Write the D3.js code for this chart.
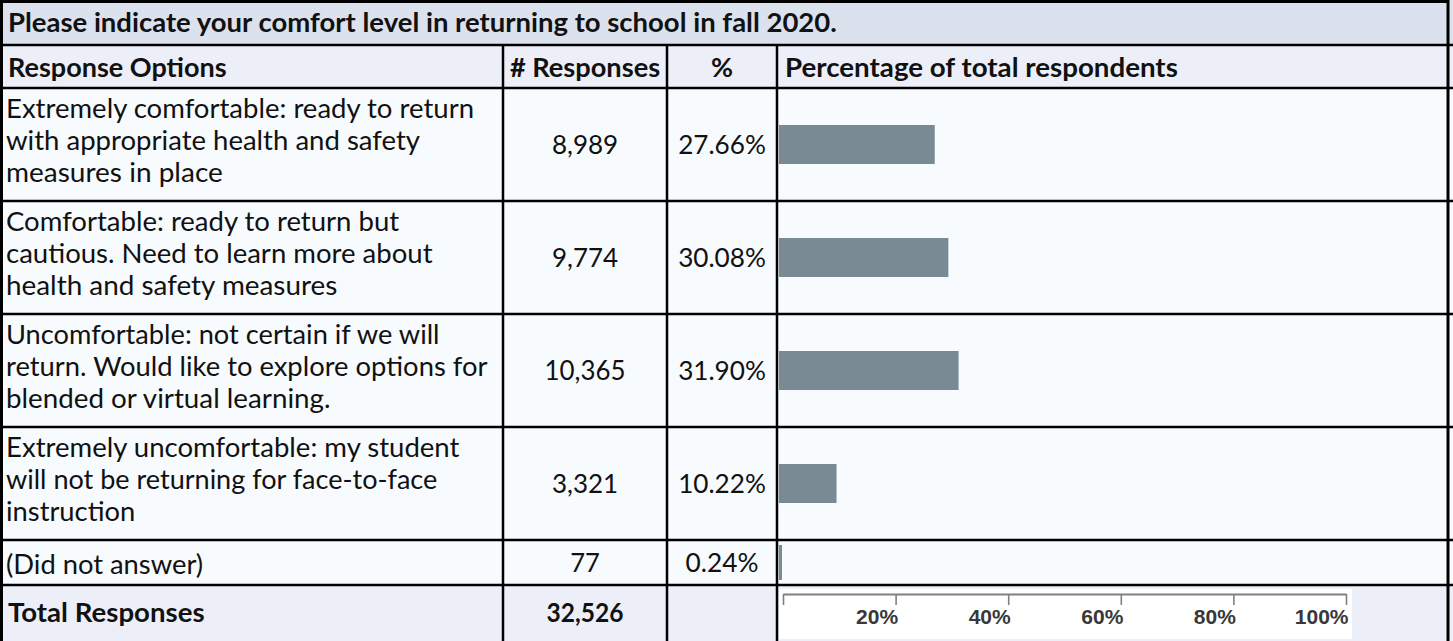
<!DOCTYPE html>
<html>
<head>
<meta charset="utf-8">
<script src="https://cdn.jsdelivr.net/npm/d3@7"></script>
<style>
  html,body{margin:0;padding:0;background:#fff;}
  svg{display:block;font-family:Lato,sans-serif;}
</style>
</head>
<body>
<svg id="chart" width="1453" height="641"></svg>
<script>
// ── DONNÉES ─────────────────────────────────────────────
var TITLE="Please indicate your comfort level in returning to school in fall 2020.";
var HEADERS=["Response Options","# Responses","%","Percentage of total respondents"];
var OPTIONS=[
  ["Extremely comfortable: ready to return","with appropriate health and safety","measures in place"],
  ["Comfortable: ready to return but","cautious. Need to learn more about","health and safety measures"],
  ["Uncomfortable: not certain if we will","return. Would like to explore options for","blended or virtual learning."],
  ["Extremely uncomfortable: my student","will not be returning for face-to-face","instruction"],
  ["(Did not answer)"]
];
var RESPONSES=[8989,9774,10365,3321,77];
var PERCENTS=[27.66,30.08,31.90,10.22,0.24];
var TOTAL_LABEL="Total Responses";
var TOTAL=32526;
var TICKS=[0,20,40,60,80,100];

// ── MISE EN PAGE ────────────────────────────────────────
var W=1453,H=641;
var colX=[0,503,667,777,1448];          // bords des colonnes
var rowH=[45,43,113,113,113,113,45,56]; // titre, entête, 5 réponses, total
var rowY=[0];
rowH.forEach(function(h,i){rowY.push(rowY[i]+h);});
var FS=26,LINE=32;
var SX_REG=0.99,SX_BOLD=0.94;           // largeur visée (réf. Open Sans) → type Calibri
var C_TITLE="#dce1ee",C_HEAD="#edeff8",C_ROW="#f7fbfd",C_BAR="#7a8a95";

var svg=d3.select("#chart");
var fmt=d3.format(",");

// largeur d'un texte dans une police donnée
function measure(s,family,bold){
  var t=svg.append("text").attr("font-family",family).attr("font-size",FS)
    .attr("font-weight",bold?"bold":"normal").text(s);
  var w=t.node().getComputedTextLength();
  t.remove();
  return w;
}

// texte Lato, étiré pour atteindre la largeur visée
function txt(sel,x,y,s,opt){
  opt=opt||{};
  var target=measure(s,"'Open Sans'",opt.bold)*(opt.sx||1);
  var own=measure(s,"Lato",opt.bold)||1;
  return sel.append("text")
    .attr("transform","translate("+x+","+y+") scale("+(target/own).toFixed(4)+",1)")
    .attr("text-anchor",opt.anchor||"start")
    .attr("font-size",FS)
    .attr("font-weight",opt.bold?"bold":"normal")
    .attr("fill","#111")
    .text(s);
}

// fonds
svg.append("rect").attr("x",0).attr("y",0).attr("width",W).attr("height",rowH[0]).attr("fill",C_TITLE);
svg.append("rect").attr("x",0).attr("y",rowY[1]).attr("width",W).attr("height",rowH[1]).attr("fill",C_HEAD);
svg.append("rect").attr("x",0).attr("y",rowY[2]).attr("width",W).attr("height",rowY[7]-rowY[2]).attr("fill",C_ROW);
svg.append("rect").attr("x",0).attr("y",rowY[7]).attr("width",W).attr("height",H-rowY[7]).attr("fill",C_HEAD);

// titre + entêtes
txt(svg,8,32,TITLE,{bold:true,sx:SX_BOLD});
var hy=rowY[1]+32;
txt(svg,8,hy,HEADERS[0],{bold:true,sx:SX_BOLD});
txt(svg,(colX[1]+colX[2])/2,hy,HEADERS[1],{bold:true,sx:SX_BOLD,anchor:"middle"});
txt(svg,(colX[2]+colX[3])/2,hy,HEADERS[2],{bold:true,sx:SX_BOLD,anchor:"middle"});
txt(svg,colX[3]+8,hy,HEADERS[3],{bold:true,sx:SX_BOLD});

// échelle des barres
var x=d3.scaleLinear().domain([0,100]).range([779,1342]);

// lignes de réponses
var rows=svg.selectAll("g.row").data(OPTIONS.map(function(o,i){
  return {lines:o,n:RESPONSES[i],p:PERCENTS[i],y0:rowY[i+2],h:rowH[i+2]};
})).enter().append("g").attr("class","row");

rows.each(function(d){
  var g=d3.select(this);
  var cy=d.y0+d.h/2;
  var k=d.lines.length;
  var off=k>1?5.5:11;
  d.lines.forEach(function(l,j){
    txt(g,6,cy+(j-(k-1)/2)*LINE+off,l,{sx:SX_REG});
  });
  txt(g,(colX[1]+colX[2])/2,cy+9.5,fmt(d.n),{anchor:"middle"});
  txt(g,(colX[2]+colX[3])/2,cy+9.5,d.p.toFixed(2)+"%",{anchor:"middle"});
  var bh=Math.min(39,d.h-10);
  g.append("rect").attr("x",x(0)).attr("y",cy-bh/2)
    .attr("width",Math.max(3,x(d.p)-x(0))).attr("height",bh).attr("fill",C_BAR);
});

// ligne total
var ty=rowY[7]+37;
txt(svg,8,ty,TOTAL_LABEL,{bold:true,sx:SX_BOLD});
txt(svg,(colX[1]+colX[2])/2,ty,fmt(TOTAL),{bold:true,sx:SX_BOLD,anchor:"middle"});

// axe (image blanche dans la cellule)
svg.append("rect").attr("x",779).attr("y",rowY[7]+4).attr("width",573).attr("height",50).attr("fill","#fff");
var axis=d3.axisBottom(x).tickValues(TICKS).tickSize(11).tickSizeOuter(0)
  .tickFormat(function(d){return d?d+"%":"";});
var ax=svg.append("g").attr("transform","translate(4,"+(rowY[7]+9)+")").call(axis);
ax.select(".domain").attr("stroke","#808080").attr("stroke-width",2);
ax.selectAll(".tick line").attr("stroke","#808080").attr("stroke-width",1.6);
ax.selectAll(".tick text").attr("text-anchor","end").attr("x",2).attr("y",30).attr("dy",0)
  .attr("font-family","'Liberation Sans',Arial,sans-serif").attr("font-weight","bold")
  .attr("font-size",21).attr("fill","#383838");

// quadrillage
var grid=svg.append("g").attr("stroke","#000");
rowY.slice(1,8).forEach(function(y){
  grid.append("line").attr("x1",0).attr("x2",W).attr("y1",y).attr("y2",y).attr("stroke-width",2.5);
});
colX.slice(1,4).forEach(function(cx){
  grid.append("line").attr("x1",cx).attr("x2",cx).attr("y1",rowY[1]).attr("y2",H).attr("stroke-width",2.5);
});
grid.append("rect").attr("x",1.5).attr("y",1.5).attr("width",colX[4]-1.5).attr("height",H+5)
  .attr("fill","none").attr("stroke-width",3);
</script>
</body>
</html>
